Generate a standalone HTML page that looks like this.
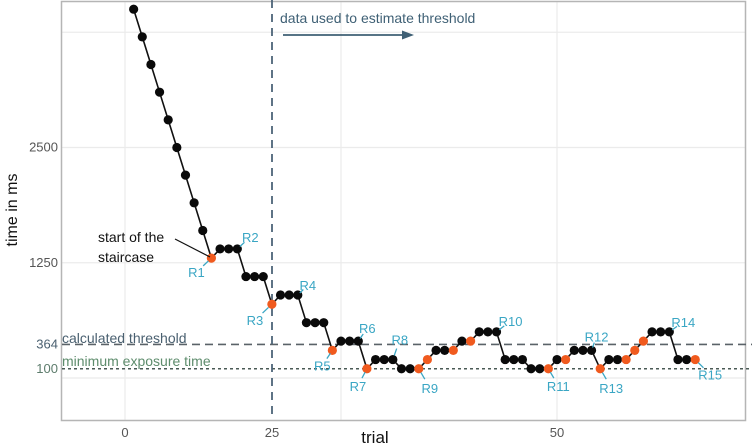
<!DOCTYPE html>
<html><head><meta charset="utf-8"><style>
html,body{margin:0;padding:0;background:#fff;}
svg{display:block;font-family:"Liberation Sans",sans-serif;}
</style></head><body>
<svg id="chart" width="752" height="447" viewBox="0 0 752 447" xmlns="http://www.w3.org/2000/svg">
<g id="grid"></g>
<rect x="61.5" y="1.5" width="684" height="419" fill="none" stroke="#b5b5b5" stroke-width="1.5"/>
<g id="refs"></g>
<g id="series"></g>
<g id="labels"></g>
<g>
<text x="280" y="23" font-size="14" fill="#3f6075">data used to estimate threshold</text>
<line x1="283" y1="35" x2="406" y2="35" stroke="#3f6075" stroke-width="1.8"/>
<polygon points="414,35 402,30.5 402,39.5" fill="#3f6075"/>
<text x="98" y="242" font-size="14" fill="#111">start of the</text>
<text x="98" y="262" font-size="14" fill="#111">staircase</text>
<line x1="175" y1="239" x2="210" y2="257" stroke="#111" stroke-width="1.2"/>
<text x="62" y="343" font-size="14" fill="#4a6070">calculated threshold</text>
<text x="62" y="366" font-size="14" fill="#5d8c6c">minimum exposure time</text>
<text x="375" y="443" font-size="17" text-anchor="middle" fill="#111">trial</text>
<text transform="translate(17,210) rotate(-90)" font-size="16" text-anchor="middle" fill="#111">time in ms</text>
</g>
<g id="ticks"></g>
</svg>
<script>
const trials = [1,2,3,4,5,6,7,8,9,10,11,12,13,14,15,16,17,18,19,20,21,22,23,24,25,26,27,28,29,30,31,32,33,34,35,36,37,38,39,40,41,42,43,44,45,46,47,48,49,50,51,52,53,54,55,56,57,58,59,60,61,62,63,64,65,66];
const times = [4000,3700,3400,3100,2800,2500,2200,1900,1600,1300,1400,1400,1400,1100,1100,1100,800,900,900,900,600,600,600,300,400,400,400,100,200,200,200,100,100,100,200,300,300,300,400,400,500,500,500,200,200,200,100,100,100,200,200,300,300,300,100,200,200,200,300,400,500,500,500,200,200,200];
const orangeTrials = [10,17,24,28,34,35,38,40,49,51,55,58,59,60,66];
const reversalNames = ["R1","R2","R3","R4","R5","R6","R7","R8","R9","R10","R11","R12","R13","R14","R15"];
const reversalTrials = [10,13,17,20,24,27,28,31,34,43,49,54,55,63,66];
const yTickValues = [100,364,1250,2500];
const yTickLabels = ["100","364","1250","2500"];
const yGridValues = [0,1250,2500,3750];
const xGridValues = [0,25,50];
const xTickLabels = ["0","25","50"];
const thresholdValue = 364;
const minExposureValue = 100;

const xs = t => 125 + 8.64 * t;
const ys = v => 378 - 0.0922 * v;
const NS = "http://www.w3.org/2000/svg";
function mk(tag, attrs, parent){const e=document.createElementNS(NS,tag);for(const k in attrs)e.setAttribute(k,attrs[k]);parent.appendChild(e);return e;}
const grid=document.getElementById('grid'), refs=document.getElementById('refs'), series=document.getElementById('series'), labels=document.getElementById('labels'), ticks=document.getElementById('ticks');

yGridValues.forEach(v=>{const l=mk('line',{x1:62,x2:745,y1:ys(v),y2:ys(v),stroke:'#ebebeb','stroke-width':1.2},grid);

});
xGridValues.forEach(v=>{const l=mk('line',{x1:xs(v),x2:xs(v),y1:2,y2:420,stroke:'#ebebeb','stroke-width':1.2},grid);

});

let l1=mk('line',{x1:62,x2:752,y1:ys(thresholdValue),y2:ys(thresholdValue),stroke:'#5a6268','stroke-width':1.6,'stroke-dasharray':'8,5'},refs);


let l2=mk('line',{x1:62,x2:752,y1:ys(minExposureValue),y2:ys(minExposureValue),stroke:'#4a5a55','stroke-width':1.5,'stroke-dasharray':'3,3'},refs);


let xs25=272;
let l3=mk('line',{x1:xs25,x2:xs25,y1:0,y2:420,stroke:'#4d6478','stroke-width':1.8,'stroke-dasharray':'8,6'},refs);



const pts = trials.map((t,i)=>xs(t)+','+ys(times[i])).join(' ');
const pl=mk('polyline',{points:pts,fill:'none',stroke:'#111','stroke-width':1.6},series);


trials.forEach((t,i)=>{const isO=orangeTrials.includes(t);
const c=mk('circle',{cx:xs(t),cy:ys(times[i]),r:4.6,fill:isO?'#f05a1e':'#0a0a0a'},series);

});

const offs={R1:[-15,14],R2:[13,-12],R3:[-17,16],R4:[10,-10],R5:[-10,15],R6:[9,-13],R7:[-9,17],R8:[7,-20],R9:[11,19],R10:[14,-11],R11:[10,17],R12:[5,-14],R13:[11,19],R14:[14,-10],R15:[15,15]};
reversalNames.forEach((n,i)=>{const t=reversalTrials[i];const v=times[trials.indexOf(t)];const px=xs(t),py=ys(v);const o=offs[n];
const ln=mk('line',{x1:px+o[0]*0.2,y1:py+o[1]*0.2,x2:px+o[0]*0.55,y2:py+o[1]*0.55,stroke:'#3aa6c4','stroke-width':1.3},labels);


const tx=mk('text',{x:px+o[0],y:py+o[1]+5,'font-size':13,fill:'#3aa6c4','text-anchor':'middle'},labels);
tx.textContent=n;

});

yTickValues.forEach((v,i)=>{const tx=mk('text',{x:58,y:ys(v)+4,'font-size':13,'text-anchor':'end',fill:v===364?'#4a6070':(v===100?'#5d7c6c':'#555')},ticks);
tx.textContent=yTickLabels[i];

});
xGridValues.forEach((v,i)=>{const x=v===25?xs25:xs(v);const tx=mk('text',{x:x,y:437,'font-size':13,'text-anchor':'middle',fill:'#555'},ticks);
tx.textContent=xTickLabels[i];

});
</script>
</body></html>
